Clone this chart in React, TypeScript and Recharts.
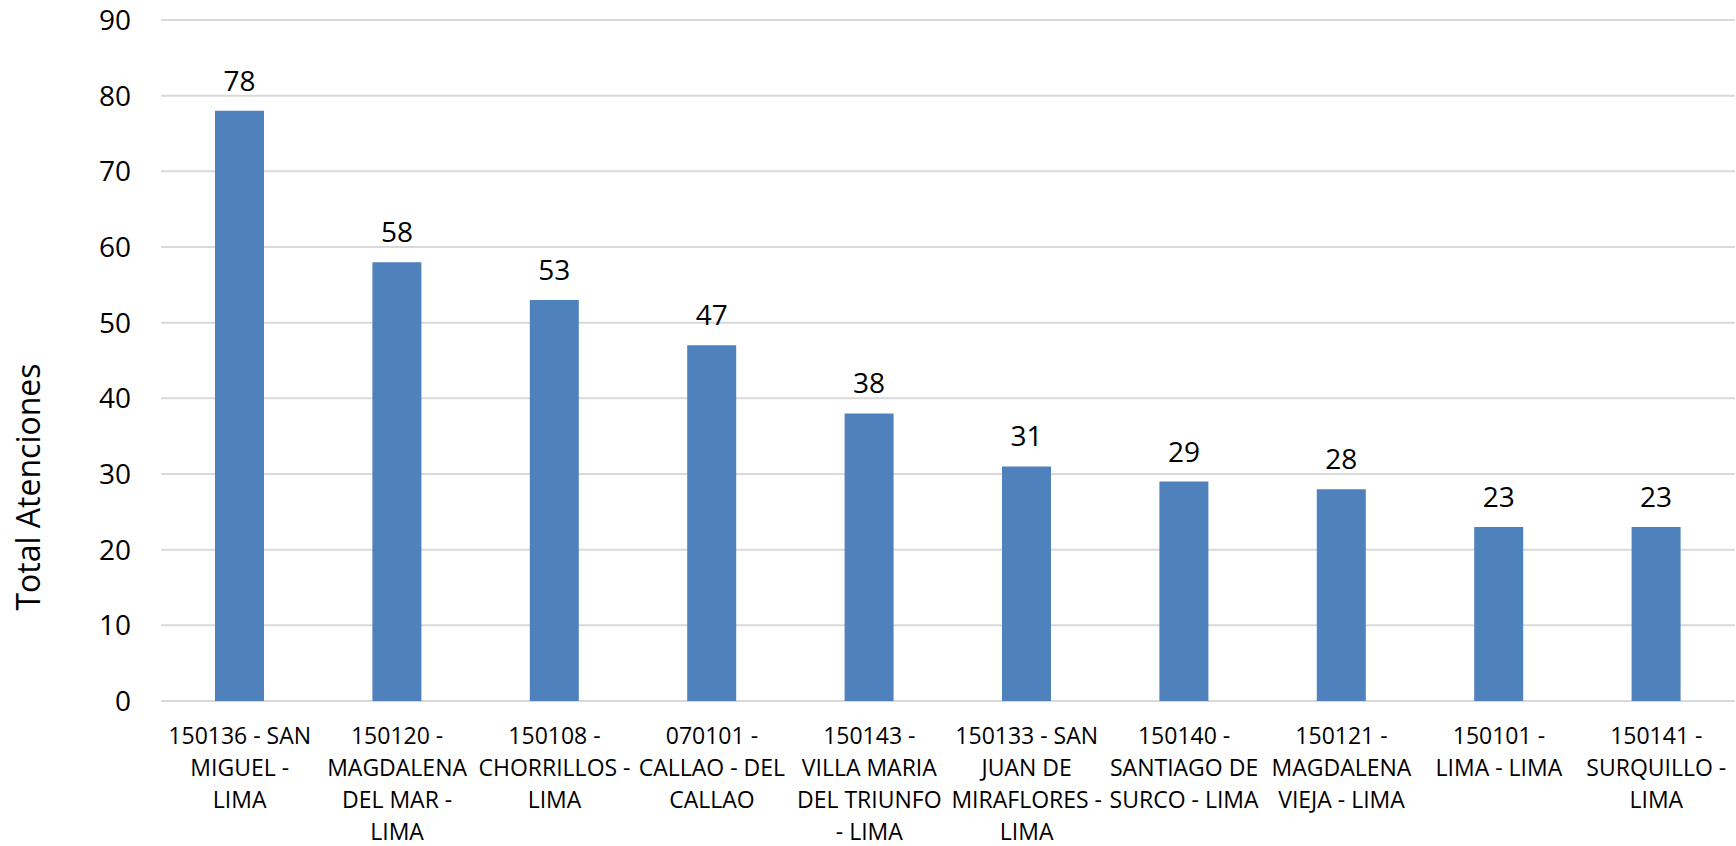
import React from "react";
import {
  BarChart,
  Bar,
  XAxis,
  YAxis,
  CartesianGrid,
  LabelList,
} from "recharts";

// district labels, wrapped the same way as the original
const categories = [
  "150136 - SAN\nMIGUEL -\nLIMA",
  "150120 -\nMAGDALENA\nDEL MAR -\nLIMA",
  "150108 -\nCHORRILLOS -\nLIMA",
  "070101 -\nCALLAO - DEL\nCALLAO",
  "150143 -\nVILLA MARIA\nDEL TRIUNFO\n- LIMA",
  "150133 - SAN\nJUAN DE\nMIRAFLORES -\nLIMA",
  "150140 -\nSANTIAGO DE\nSURCO - LIMA",
  "150121 -\nMAGDALENA\nVIEJA - LIMA",
  "150101 -\nLIMA - LIMA",
  "150141 -\nSURQUILLO -\nLIMA",
];

const totals = [78, 58, 53, 47, 38, 31, 29, 28, 23, 23];

const yTicks = [0, 10, 20, 30, 40, 50, 60, 70, 80, 90];

const yTitle = "Total Atenciones";

const data = categories.map((name, i) => ({ name, value: totals[i] }));

const FONT = "'Open Sans', sans-serif";

const CategoryTick = ({
  x,
  y,
  payload,
}: {
  x?: number;
  y?: number;
  payload?: { value: string };
}) => {
  if (x == null || y == null || !payload) return null;
  const lines = String(payload.value).split("\n");
  return (
    <text
      x={x}
      y={y + 35}
      textAnchor="middle"
      fill="#000"
      fontSize={23}
      fontFamily={FONT}
    >
      {lines.map((line, i) => (
        <tspan key={i} x={x} dy={i === 0 ? 0 : 32}>
          {line}
        </tspan>
      ))}
    </text>
  );
};

const YTitle = () => (
  <text
    x={40}
    y={487}
    transform="rotate(-90, 40, 487)"
    textAnchor="middle"
    fill="#000"
    fontSize={32}
    fontFamily={FONT}
  >
    {yTitle}
  </text>
);

export default function App() {
  return (
    <div style={{ position: "absolute", left: 0, top: 0, background: "#fff" }}>
      <BarChart
        width={1736}
        height={846}
        data={data}
        margin={{ top: 20, right: 1, left: 0, bottom: 0 }}
      >
        <CartesianGrid
          vertical={false}
          stroke="#d9d9d9"
          strokeWidth={2}
        />
        <XAxis
          dataKey="name"
          height={145}
          axisLine={false}
          tickLine={false}
          interval={0}
          tick={<CategoryTick />}
        />
        <YAxis
          width={161}
          domain={[0, 90]}
          ticks={yTicks}
          axisLine={false}
          tickLine={false}
          tickSize={6}
          tickMargin={24}
          tick={{ fill: "#000", fontSize: 28, fontFamily: FONT }}
          label={{ content: () => <YTitle /> }}
        />
        <Bar
          dataKey="value"
          fill="#4f81bd"
          barSize={49}
          isAnimationActive={false}
        >
          <LabelList
            dataKey="value"
            position="top"
            offset={20}
            fill="#000"
            fontSize={28}
            fontFamily={FONT}
          />
        </Bar>
      </BarChart>
    </div>
  );
}
